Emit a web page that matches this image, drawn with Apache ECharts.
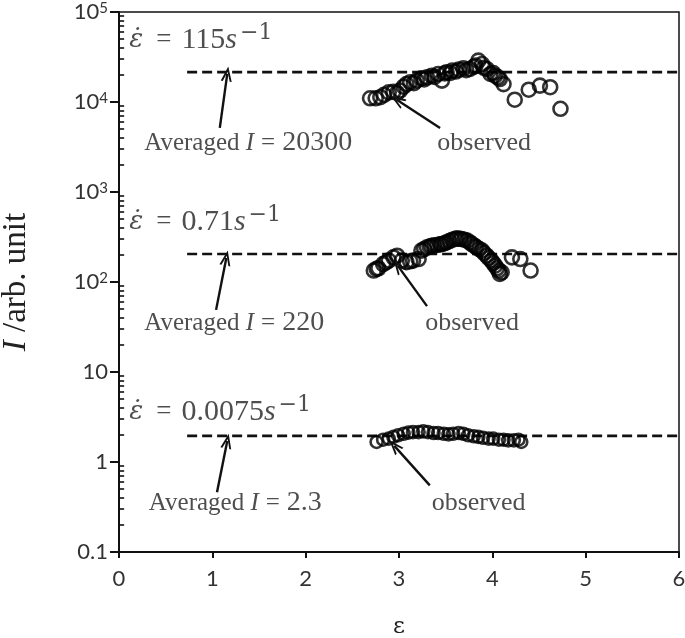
<!DOCTYPE html>
<html>
<head>
<meta charset="utf-8">
<script src="https://cdn.jsdelivr.net/npm/echarts@6/dist/echarts.min.js"></script>
<style>
  html, body { margin: 0; padding: 0; background: #fff; }
  #chart { width: 685px; height: 638px; }
</style>
</head>
<body>
<div id="chart"></div>
<script>
// strain rate 115 s^-1
const epsTop = [2.69, 2.75, 2.80, 2.84, 2.89, 2.94, 2.98, 3.01, 3.05, 3.08, 3.12, 3.16, 3.19, 3.24, 3.27, 3.30, 3.35, 3.38, 3.42, 3.46, 3.49, 3.51, 3.55, 3.57, 3.61, 3.64, 3.69, 3.72, 3.76, 3.80, 3.82, 3.85, 3.89, 3.91, 3.94, 3.98, 4.01, 4.03, 4.06, 4.08, 4.12, 4.24, 4.39, 4.51, 4.62, 4.73]
const iTop = [11000, 11000, 11300, 12000, 12800, 13000, 12600, 13400, 14800, 15800, 16600, 16200, 17300, 18300, 17800, 18800, 19600, 19000, 20500, 17300, 20800, 21400, 21000, 22300, 21800, 22900, 23700, 22600, 23300, 24600, 25400, 28800, 26400, 24000, 23300, 20500, 21000, 19600, 18800, 18000, 15800, 10600, 13700, 15200, 14600, 8400]

// strain rate 0.71 s^-1
const epsMid = [2.73, 2.76, 2.78, 2.83, 2.86, 2.89, 2.94, 2.98, 3.03, 3.08, 3.12, 3.15, 3.21, 3.24, 3.27, 3.30, 3.33, 3.35, 3.38, 3.41, 3.44, 3.46, 3.49, 3.51, 3.54, 3.57, 3.60, 3.62, 3.65, 3.67, 3.70, 3.73, 3.76, 3.78, 3.81, 3.83, 3.86, 3.89, 3.91, 3.94, 3.96, 3.99, 4.01, 4.03, 4.05, 4.07, 4.08, 4.10, 4.21, 4.30, 4.41]
const iMid = [134, 140, 142, 158, 165, 173, 188, 196, 173, 166, 170, 173, 180, 223, 232, 243, 248, 253, 256, 258, 262, 264, 270, 276, 285, 295, 300, 306, 302, 300, 295, 288, 275, 264, 252, 243, 232, 223, 210, 196, 185, 173, 162, 152, 142, 134, 123, 128, 188, 180, 134]

// strain rate 0.0075 s^-1
const epsLow = [2.76, 2.83, 2.89, 2.94, 2.99, 3.05, 3.10, 3.15, 3.21, 3.26, 3.31, 3.37, 3.42, 3.48, 3.53, 3.58, 3.64, 3.69, 3.74, 3.80, 3.85, 3.90, 3.96, 4.01, 4.07, 4.12, 4.17, 4.23, 4.28, 4.31]
const iLow = [1.67, 1.77, 1.82, 1.90, 1.98, 2.06, 2.12, 2.15, 2.15, 2.19, 2.15, 2.10, 2.10, 2.06, 2.03, 2.06, 2.10, 2.06, 1.98, 1.93, 1.90, 1.86, 1.82, 1.82, 1.77, 1.77, 1.74, 1.74, 1.77, 1.67]

// averaged levels (dashed lines) as drawn
const avgLevels = [21500, 205, 1.95]
const avgRange = [0.73, 6]

// annotation texts
const rateTexts = ['115', '0.71', '0.0075']
const rateX = 0.11
const rateY = [48900, 464, 3.6]
const avgTexts = ['20300', '220', '2.3']
const avgTextX = [0.27, 0.27, 0.32]
const noteY = [3500, 35, 0.35]
const obsTextX = [3.41, 3.28, 3.35]

// arrows [fromX, fromY, toX, toY]
const arrows = [
  [1.08, 5150, 1.16, 20500],
  [3.44, 5150, 2.98, 10500],
  [1.04, 49, 1.15, 185],
  [3.30, 54, 2.99, 150],
  [1.05, 0.46, 1.16, 1.71],
  [3.33, 0.55, 2.95, 1.51]
]

const xTicks = [0, 1, 2, 3, 4, 5, 6]
const yTickLabels = ['0.1', '1', '10', '10{p|2}', '10{p|3}', '10{p|4}', '10{p|5}']

// minor ticks 2..9 of every decade
const yMinorTicks = []
for (let e = -1; e < 5; e++) {
  for (let k = 2; k <= 9; k++) yMinorTicks.push(k * Math.pow(10, e))
}
const MINOR_TICK_LEN = 0.055 // in x units, about 5px

const pair = (xs, ys) => xs.map((x, i) => [x, ys[i]])

const CIRCLE = (size) => ({
  type: 'scatter',
  symbol: 'circle',
  symbolSize: size,
  itemStyle: { color: 'rgba(0,0,0,0)', borderColor: '#000', borderWidth: 2.6 },
  silent: true,
  z: 3
})

const noteData = []
rateTexts.forEach((t, i) => {
  noteData.push({ value: [rateX, rateY[i]], label: { formatter: '{e|ε\u0307}{q|=}{n|' + t + '}{s|s}{p|−1}' } })
  noteData.push({ value: [avgTextX[i], noteY[i]], label: { formatter: '{t|Averaged }{ti|I}{qa|=}{v|' + avgTexts[i] + '}' } })
  noteData.push({ value: [obsTextX[i], noteY[i]], label: { formatter: '{o|observed}' } })
})

const arrowHead = 'path://M5,0 L10,14 L8.2,14 L5,5 L1.8,14 L0,14 Z'

const chart = echarts.init(document.getElementById('chart'))
chart.setOption({
  animation: false,
  grid: {
    left: 119, right: 6, top: 12, bottom: 86,
    outerBoundsMode: 'none',
    show: true, borderColor: '#111', borderWidth: 1.5
  },
  xAxis: {
    type: 'value', min: 0, max: 6, interval: 1,
    name: 'ε', nameLocation: 'middle', nameGap: 64,
    nameTextStyle: { fontFamily: 'DejaVu Serif', fontSize: 23, color: '#222' },
    axisLine: { onZero: false, lineStyle: { color: '#111', width: 2 } },
    axisTick: { length: 6, lineStyle: { color: '#111', width: 2 } },
    axisLabel: {
      margin: 16, fontFamily: 'Lato', fontSize: 22, color: '#333',
      customValues: xTicks
    },
    splitLine: { show: false }
  },
  yAxis: {
    type: 'log', min: 0.1, max: 100000,
    name: '{ti|I} /arb. unit', nameLocation: 'middle', nameGap: 86,
    nameTextStyle: {
      fontFamily: 'Liberation Serif', fontSize: 33, color: '#222',
      rich: { ti: { fontFamily: 'Liberation Serif', fontStyle: 'italic', fontSize: 33, color: '#222' } }
    },
    axisLine: { lineStyle: { color: '#111', width: 2 } },
    axisTick: { length: 9, lineStyle: { color: '#111', width: 2 } },
    axisLabel: {
      margin: 11, fontFamily: 'Lato', fontSize: 22, color: '#333',
      formatter: (v) => yTickLabels[Math.round(Math.log10(v)) + 1],
      rich: { p: { fontFamily: 'Lato', fontSize: 15, color: '#333', verticalAlign: 'top', lineHeight: 15 } }
    },
    splitLine: { show: false }
  },
  series: [
    Object.assign(CIRCLE(14), { data: pair(epsTop, iTop) }),
    Object.assign(CIRCLE(14), { data: pair(epsMid, iMid) }),
    Object.assign(CIRCLE(12), { data: pair(epsLow, iLow) }),
    ...avgLevels.map(v => ({
      type: 'line',
      data: avgRange.map(x => [x, v]),
      symbol: 'none',
      silent: true,
      lineStyle: { color: '#111', width: 2.6, type: [10, 5] },
      z: 2
    })),
    {
      type: 'scatter',
      symbolSize: 0,
      silent: true,
      data: noteData,
      label: {
        show: true, position: 'right', distance: 0, color: '#222',
        rich: {
          e: { fontFamily: 'DejaVu Serif', fontStyle: 'italic', fontSize: 26, color: '#222', lineHeight: 36 },
          q: { fontFamily: 'Liberation Serif', fontSize: 27, color: '#222', padding: [0, 10, 0, 13] },
          n: { fontFamily: 'Liberation Serif', fontSize: 30, color: '#222', lineHeight: 36 },
          s: { fontFamily: 'Liberation Serif', fontStyle: 'italic', fontSize: 30, color: '#222', lineHeight: 36 },
          p: { fontFamily: 'DejaVu Serif', fontSize: 22, color: '#222', verticalAlign: 'top', lineHeight: 22, padding: [0, 0, 0, 3] },
          t: { fontFamily: 'Liberation Serif', fontSize: 25, color: '#222' },
          ti: { fontFamily: 'Liberation Serif', fontStyle: 'italic', fontSize: 25, color: '#222' },
          qa: { fontFamily: 'Liberation Serif', fontSize: 25, color: '#222', padding: [0, 7, 0, 7] },
          v: { fontFamily: 'Liberation Serif', fontSize: 28, color: '#222' },
          o: { fontFamily: 'Liberation Serif', fontSize: 26, color: '#222' }
        }
      },
      markLine: {
        silent: true,
        symbol: ['none', arrowHead],
        symbolSize: [11, 15],
        label: { show: false },
        lineStyle: { color: '#111', width: 2.4, type: 'solid' },
        data: arrows.map(a => [{ coord: [a[0], a[1]] }, { coord: [a[2], a[3]] }])
          .concat(yMinorTicks.map(v => [
            // log-spaced minor ticks along the y axis
            { coord: [0, v], symbol: 'none', lineStyle: { width: 1.6 } },
            { coord: [MINOR_TICK_LEN, v], symbol: 'none' }
          ]))
      }
    }
  ]
})
</script>
</body>
</html>
